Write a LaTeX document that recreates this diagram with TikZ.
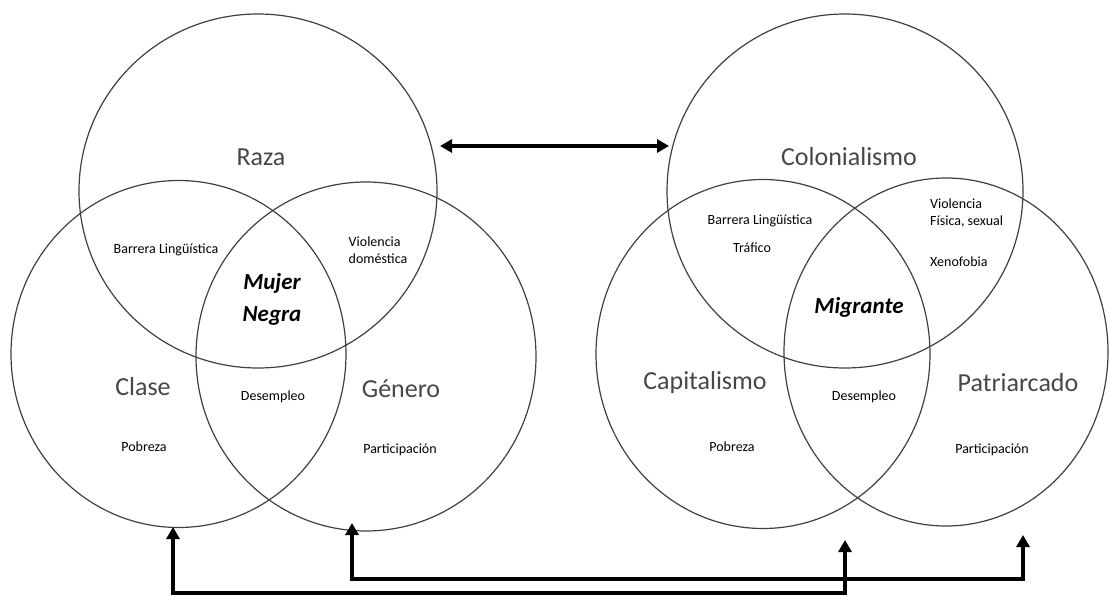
\documentclass[tikz,border=0pt]{standalone}
\usepackage{fontspec}
\setmainfont{Carlito}
\usetikzlibrary{arrows.meta,shapes.geometric}
\tikzset{
  venn/.style={ellipse, draw=black!75, line width=1.2pt, inner sep=0pt},
  big/.style={font=\fontsize{26}{30}\selectfont, text=black!72, inner sep=0pt},
  small/.style={font=\fontsize{14}{17}\selectfont, text=black, inner sep=0pt},
  core/.style={font=\fontsize{23}{32}\selectfont\bfseries\itshape, text=black, inner sep=0pt, align=center},
  arr/.style={line width=3.4pt, black, {Triangle[width=13pt,length=12pt]}-{Triangle[width=13pt,length=12pt]}}
}
\begin{document}
\begin{tikzpicture}[x=1pt,y=-1pt]
\useasboundingbox (0,0) rectangle (1110,596);
% left group
\node[venn, minimum width=358pt, minimum height=354pt] (raza) at (258,191) {};
\node[venn, minimum width=335pt, minimum height=347pt] (clase) at (178.5,354) {};
\node[venn, minimum width=340pt, minimum height=349pt] (genero) at (366,356.5) {};
% right group
\node[venn, minimum width=356pt, minimum height=354pt] (colon) at (845,191) {};
\node[venn, minimum width=334pt, minimum height=349pt] (capi) at (763,354) {};
\node[venn, minimum width=324pt, minimum height=348pt] (patri) at (946,352) {};

% labels left
\node[big] (lraza) at (261,157) {Raza};
\node[small] (lbar1) at (166,250) {Barrera Lingüística};
\node[small, align=left] (lvio1) at (378,250) {Violencia\\doméstica};
\node[core] (lmn) at (272,299) {Mujer\\Negra};
\node[big] (lclase) at (143,387) {Clase};
\node[small] (ldes1) at (273,397) {Desempleo};
\node[big] (lgen) at (401,389) {Género};
\node[small] (lpob1) at (144,447) {Pobreza};
\node[small] (lpar1) at (400,450) {Participación};

% labels right
\node[big] (lcol) at (849,157) {Colonialismo};
\node[small] (lbar2) at (760,221) {Barrera Lingüística};
\node[small] (ltra) at (752,248) {Tráfico};
\node[small, anchor=west, align=left] (lvio2) at (930,213) {Violencia\\Física, sexual};
\node[small, anchor=west] (lxen) at (930,262) {Xenofobia};
\node[core] (lmig) at (859,307) {Migrante};
\node[big] (lcap) at (705,383) {Capitalismo};
\node[small] (ldes2) at (864,397) {Desempleo};
\node[big] (lpat) at (1018,383) {Patriarcado};
\node[small] (lpob2) at (732,447) {Pobreza};
\node[small] (lpar2) at (992,450) {Participación};

% connectors
\coordinate (dL) at (440,146);
\coordinate (dR) at (669,146);
\draw[arr] (dL) -- (dR);

\coordinate (aC) at (173,527);
\coordinate (aK) at (845,540);
\coordinate (yC) at (0,593);
\draw[arr] (aC) -- (aC |- yC) -| (aK);

\coordinate (aG) at (352,523);
\coordinate (aP) at (1023,535);
\coordinate (yG) at (0,579);
\draw[arr] (aG) -- (aG |- yG) -| (aP);
\end{tikzpicture}
\end{document}
